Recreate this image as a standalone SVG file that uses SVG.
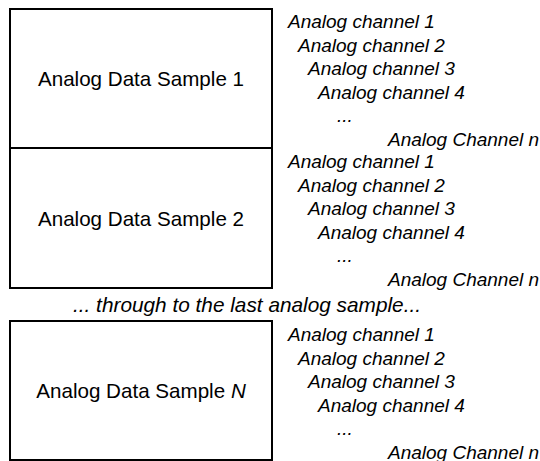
<svg xmlns="http://www.w3.org/2000/svg" width="540" height="461" viewBox="0 0 540 461">
<style>
.box{fill:#fff;stroke:#000;stroke-width:2}
.lbl{font-family:"Liberation Sans",Arial,sans-serif;font-size:20.6px;fill:#000;text-anchor:middle}
.ch{font-family:"Liberation Sans",Arial,sans-serif;font-size:19px;font-style:italic;fill:#000}
.mid{font-family:"Liberation Sans",Arial,sans-serif;font-size:20.8px;font-style:italic;fill:#000;text-anchor:middle}
</style>
<rect width="540" height="461" fill="#fff"/>
<defs>
<g id="chans">
<text class="ch" x="288" y="28">Analog channel 1</text>
<text class="ch" x="298" y="51.5">Analog channel 2</text>
<text class="ch" x="308" y="75">Analog channel 3</text>
<text class="ch" x="318" y="98.5">Analog channel 4</text>
<text class="ch" x="337" y="122">...</text>
<text class="ch" x="388" y="145.5">Analog Channel n</text>
</g>
</defs>
<g id="sample1">
<rect class="box" x="10" y="9" width="262" height="139"/>
<text class="lbl" x="141" y="86">Analog Data Sample 1</text>
<use href="#chans"/>
</g>
<g id="sample2">
<rect class="box" x="10" y="148" width="262" height="140"/>
<text class="lbl" x="141" y="226">Analog Data Sample 2</text>
<use href="#chans" y="140"/>
</g>
<g id="middle">
<text class="mid" x="247" y="312">... through to the last analog sample...</text>
</g>
<g id="sampleN">
<rect class="box" x="10" y="321" width="262" height="139"/>
<text class="lbl" x="141" y="398">Analog Data Sample <tspan font-style="italic">N</tspan></text>
<use href="#chans" y="313"/>
</g>
<g id="connectors"/>
</svg>
